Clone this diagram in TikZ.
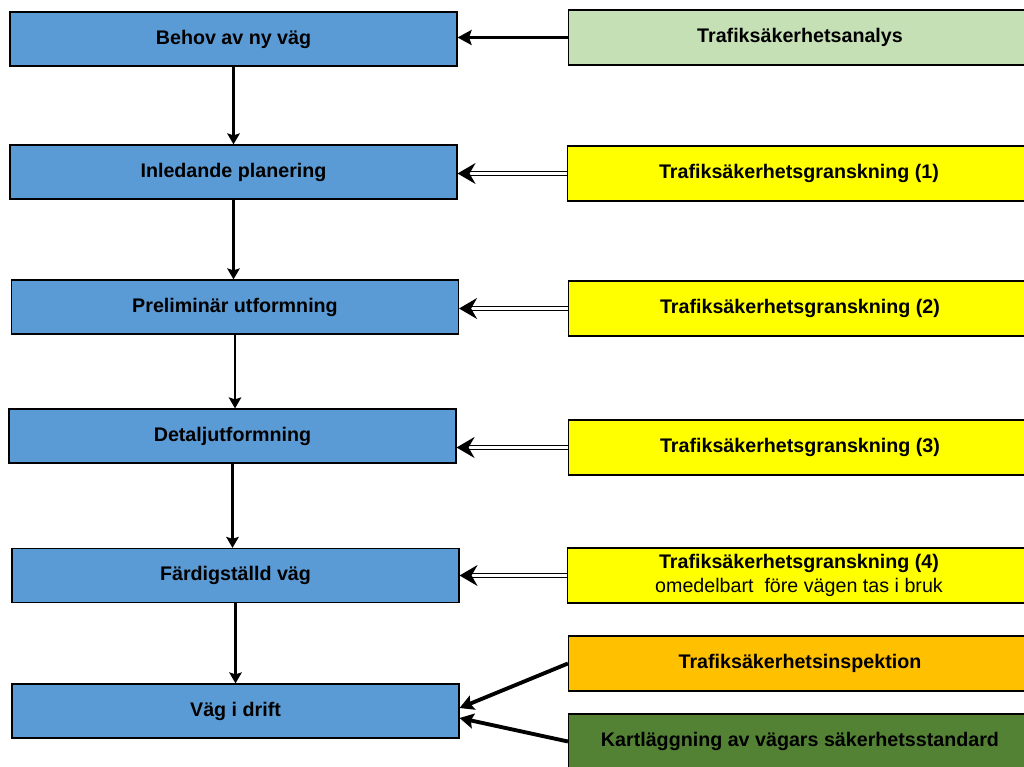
\documentclass[tikz,border=0pt]{standalone}
\usepackage{fontspec}
\setmainfont{Liberation Sans}
\usetikzlibrary{arrows.meta}

\definecolor{stegblue}{HTML}{5B9BD5}
\definecolor{analysgreen}{HTML}{C5E0B4}
\definecolor{granskyellow}{HTML}{FFFF00}
\definecolor{inspektorange}{HTML}{FFC000}
\definecolor{kartgreen}{HTML}{548235}

\tikzset{
  steg/.style={draw=black, line width=0.7pt, fill=stegblue,
    minimum width=8.94cm, minimum height=1.08cm,
    font=\bfseries\fontsize{11.2}{13.5}\selectfont},
  atgard/.style={draw=black, line width=0.7pt,
    minimum width=9.26cm, minimum height=1.1cm, align=center,
    font=\bfseries\fontsize{11.2}{13.5}\selectfont},
  pil/.style={-{Stealth[length=2.2mm, width=2.5mm, inset=0.4mm]}, line width=1.6pt},
  tjockpil/.style={-{Stealth[length=2.8mm, width=3mm, inset=0.5mm]}, line width=2.2pt},
  dubbelpil/.style={double, double distance=1.7pt, line width=0.8pt,
    -{Stealth[length=3.6mm, width=4.2mm, inset=1.2mm]}}
}

\begin{document}
\begin{tikzpicture}[x=0.02cm, y=-0.02cm]
  \useasboundingbox (0,0) rectangle (1024,767);
  \clip (0,0) rectangle (1024,767);

  % Vägens steg
  \node[steg] (behov)     at (233.5,39)  {Behov av ny väg};
  \node[steg] (inledande) at (233.5,172) {Inledande planering};
  \node[steg] (prelim)    at (235,307)   {Preliminär utformning};
  \node[steg] (detalj)    at (232.5,436) {Detaljutformning};
  \node[steg] (fardig)    at (235.5,575.5) {Färdigställd väg};
  \node[steg] (drift)     at (235.5,711) {Väg i drift};

  % Åtgärder
  \node[atgard, fill=analysgreen]  (analys)  at (800,37.5)  {Trafiksäkerhetsanalys};
  \node[atgard, fill=granskyellow] (gransk1) at (799,173.5) {Trafiksäkerhetsgranskning (1)};
  \node[atgard, fill=granskyellow] (gransk2) at (800,308.5) {Trafiksäkerhetsgranskning (2)};
  \node[atgard, fill=granskyellow] (gransk3) at (800,447.5) {Trafiksäkerhetsgranskning (3)};
  \node[atgard, fill=granskyellow] (gransk4) at (799,575.5)
    {Trafiksäkerhetsgranskning (4)\\{\mdseries omedelbart\ \ före vägen tas i bruk}};
  \node[atgard, fill=inspektorange] (inspekt) at (800,663.5) {Trafiksäkerhetsinspektion};
  \node[atgard, fill=kartgreen]     (kart)    at (800,741.5) {Kartläggning av vägars säkerhetsstandard};

  % Flödet nedåt
  \draw[pil] (behov.south)     -- (inledande.north -| behov.south);
  \draw[pil] (inledande.south) -- (prelim.north -| inledande.south);
  \draw[pil] (prelim.south)    -- (detalj.north -| prelim.south);
  \draw[pil] (detalj.south)    -- (fardig.north -| detalj.south);
  \draw[pil] (fardig.south)    -- (drift.north -| fardig.south);

  % Pilar från åtgärderna
  \draw[tjockpil] (analys.west) -- (analys.west -| behov.east);
  \draw[dubbelpil] (gransk1.west) -- (gransk1.west -| inledande.east);
  \draw[dubbelpil] (gransk2.west) -- (gransk2.west -| prelim.east);
  \draw[dubbelpil] (gransk3.west) -- (gransk3.west -| detalj.east);
  \draw[dubbelpil] (gransk4.west) -- (gransk4.west -| fardig.east);
  \draw[tjockpil] (inspekt.west) -- ([yshift=0.06cm]drift.east);
  \draw[tjockpil] (kart.west) -- ([yshift=-0.14cm]drift.east);
\end{tikzpicture}
\end{document}
